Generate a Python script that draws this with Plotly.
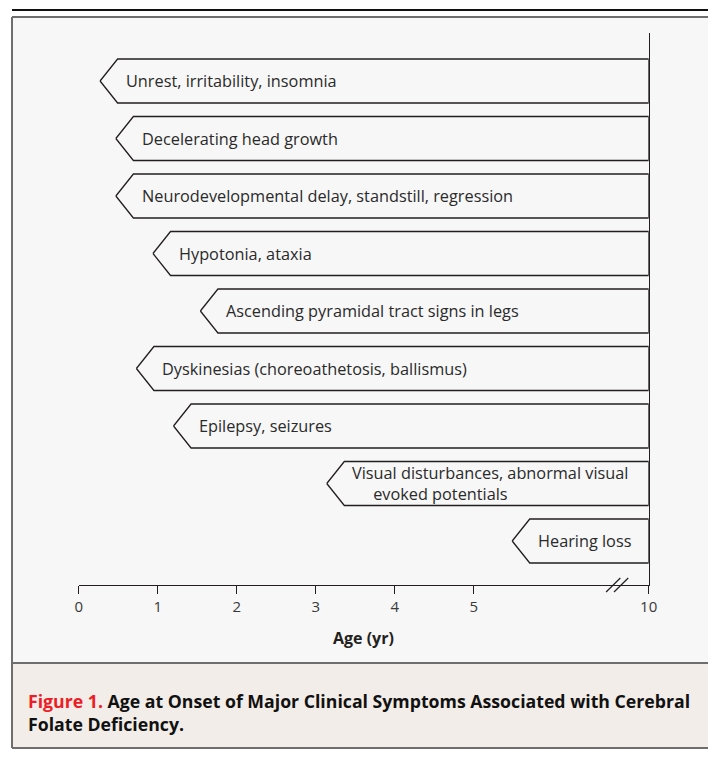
import plotly.graph_objects as go

# ---------------- data ----------------
symptoms = [
    "Unrest, irritability, insomnia",
    "Decelerating head growth",
    "Neurodevelopmental delay, standstill, regression",
    "Hypotonia, ataxia",
    "Ascending pyramidal tract signs in legs",
    "Dyskinesias (choreoathetosis, ballismus)",
    "Epilepsy, seizures",
    "Visual disturbances, abnormal visual\nevoked potentials",
    "Hearing loss",
]
onset_age = [0.27, 0.47, 0.47, 0.94, 1.54, 0.73, 1.20, 3.14, 6.1]
end_age = [10, 10, 10, 10, 10, 10, 10, 10, 10]
tick_ages = [0, 1, 2, 3, 4, 5, 10]
tick_labels = ["0", "1", "2", "3", "4", "5", "10"]
x_title = "Age (yr)"
caption_fig = "Figure 1."
caption_text = "Age at Onset of Major Clinical Symptoms Associated with Cerebral<br>Folate Deficiency."

# ---------------- layout constants ----------------
# horizontal calibration of the page (screen x = A + S * figure x)
A_X, S_X = 11.26, 0.982
OY = 8
W, H = 718, 757 - 2 * OY
BREAK_AT = 5.0
POS_10 = 7.215                # axis position (in 'linear years') of the 10-yr tick


def pos(age):
    """Broken axis: linear up to 5 yr, compressed between 5 and 10 yr."""
    if age <= BREAK_AT:
        return age
    return BREAK_AT + (age - BREAK_AT) * (POS_10 - BREAK_AT) / (10 - BREAK_AT)


def px(x):
    return max(0.0, (x - A_X) / S_X) / W


def py(y):
    return 1 - (y - OY) / H


CHART_BG = "#f7f7f7"
CAP_BG = "#f2ede8"
BORDER = "#6e6e6e"
INK = "#231f20"
FONT = "'Open Sans', Lato, sans-serif"

NOTCH = 0.222     # arrow head depth in axis units
HALF = 0.383      # half-height of each arrow, in row units
TXT_OFF = 0.30

fig = go.Figure()

for i, (lab, a0, a1) in enumerate(zip(symptoms, onset_age, end_age)):
    x0 = pos(a0)
    x1 = pos(a1)
    xs = [x0, x0 + NOTCH, x1, x1, x0 + NOTCH, x0]
    ys = [i, i - HALF, i - HALF, i + HALF, i + HALF, i]
    fig.add_trace(go.Scatter(
        x=xs, y=ys, mode="lines", fill="toself", fillcolor=CHART_BG,
        line=dict(color=INK, width=1.3), hoverinfo="skip", showlegend=False,
    ))
    lines = lab.split("\n")
    text = lines[0] + "".join("<br>" + "&nbsp;" * 5 + l for l in lines[1:])
    fig.add_annotation(
        x=x0 + TXT_OFF, y=i, xref="x", yref="y", text=text, showarrow=False,
        xanchor="left", yanchor="middle", align="left",
        font=dict(family=FONT, size=16.3, color="#2a2a2a"),
    )

shapes = [
    # top black rule
    dict(type="line", xref="paper", yref="paper", x0=px(7), x1=1, y0=py(10), y1=py(10),
         line=dict(color="#111", width=2)),
    # chart panel
    dict(type="rect", xref="paper", yref="paper", x0=px(9), x1=1, y0=py(663), y1=py(17),
         fillcolor=CHART_BG, line=dict(color=BORDER, width=0), layer="below"),
    # caption panel
    dict(type="rect", xref="paper", yref="paper", x0=px(9), x1=1, y0=py(755), y1=py(663),
         fillcolor=CAP_BG, line=dict(color=BORDER, width=0), layer="below"),
    # panel borders
    dict(type="line", xref="paper", yref="paper", x0=px(9), x1=1, y0=py(17), y1=py(17),
         line=dict(color=BORDER, width=2)),
    dict(type="line", xref="paper", yref="paper", x0=px(9), x1=1, y0=py(663), y1=py(663),
         line=dict(color=BORDER, width=2)),
    dict(type="line", xref="paper", yref="paper", x0=px(9), x1=1, y0=py(748), y1=py(748),
         line=dict(color=BORDER, width=2)),
    dict(type="line", xref="paper", yref="paper", x0=px(10), x1=px(10), y0=py(17), y1=py(748),
         line=dict(color=BORDER, width=2)),
]
# axis break marks
bx = pos(9.1)
for dx in (-0.05, 0.05):
    shapes.append(dict(type="line", xref="x", yref="paper",
                       x0=bx + dx - 0.09, x1=bx + dx + 0.09,
                       y0=py(592), y1=py(578), line=dict(color=INK, width=1.2)))
fig.update_layout(shapes=shapes)

fig.add_annotation(x=(px(78) + px(648)) / 2, y=py(638), xref="paper", yref="paper",
                   xanchor="center", yanchor="middle",
                   text=x_title, showarrow=False,
                   font=dict(family=FONT, size=16, color=INK, weight=700))
fig.add_annotation(x=px(25), y=py(712), xref="paper", yref="paper", xanchor="left",
                   yanchor="middle", align="left", showarrow=False,
                   text="<span style='color:#ee1c25'>" + caption_fig + "</span> " + caption_text,
                   font=dict(family=FONT, size=17.7, color="#111", weight=700))

y_top_px, y_bot_px = 33, 585
row0_px, row_step = 81, 57.5
fig.update_layout(
    width=W, height=H, margin=dict(l=0, r=0, t=0, b=0),
    paper_bgcolor="white", plot_bgcolor="rgba(0,0,0,0)",
    xaxis=dict(domain=[px(78), px(648)], range=[0, POS_10],
               tickvals=[pos(t) for t in tick_ages], ticktext=tick_labels,
               ticks="outside", ticklen=8, tickcolor=INK, tickwidth=1.2,
               showline=True, linecolor=INK, linewidth=1.3,
               showgrid=False, zeroline=False,
               tickfont=dict(family=FONT, size=15, color="#3a3a3a")),
    yaxis=dict(domain=[py(y_bot_px), py(y_top_px)],
               range=[(y_bot_px - row0_px) / row_step, (y_top_px - row0_px) / row_step],
               side="right", showline=True, linecolor=INK, linewidth=1.3,
               showticklabels=False, ticks="", showgrid=False, zeroline=False),
)

fig.write_html("out.html")
